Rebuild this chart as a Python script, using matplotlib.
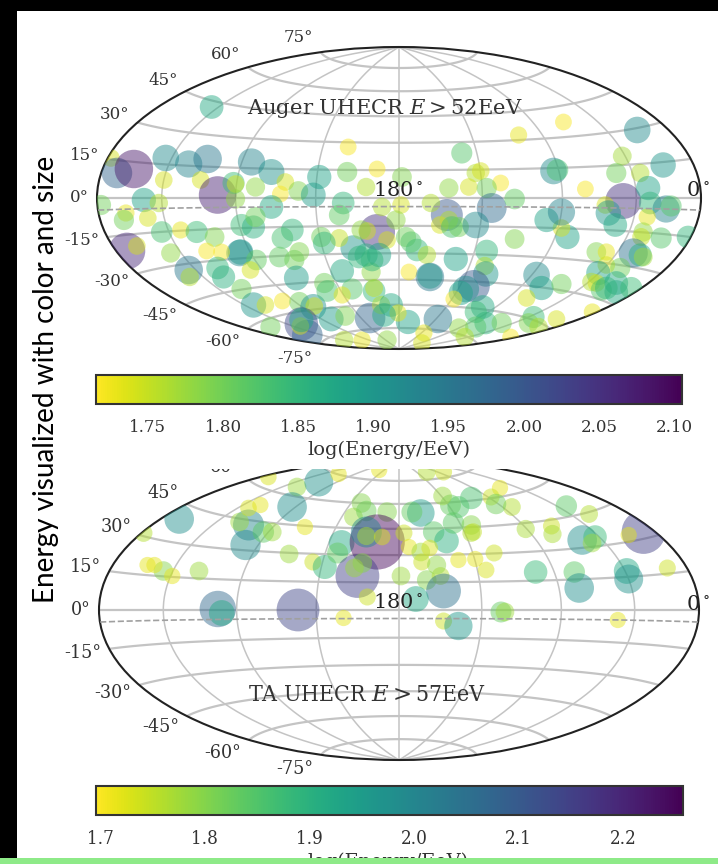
import numpy as np
import matplotlib
matplotlib.use('Agg')
import matplotlib.pyplot as plt
from matplotlib.cm import ScalarMappable
from matplotlib.colors import Normalize
from matplotlib.patches import Rectangle

# Arrival directions, in map units from the map centre
# (half width of the ellipse = 303 units), with log10(E/EeV) read from colour and size
auger_x = [-188, -289, -283, -266, -234, -211, -192, -236, -199, -182, -166, -164, -164, -148, -128, -114, -119,
           -144, -101, -80, -86, -51, -22, -52, -33, -56, -60, -299, -274, -276, -256, -241, -252, -238, -219, -203,
           -185, -128, -158, -146, -144, -160, -159, -193, -178, -229, -273, -263, -107, -117, -100, -120, -105,
           -103, -211, -210, -182, -176, -143, -149, -158, -146, -134, -117, -129, -100, -86, -85, -98, -92, -99,
           -98, -68, -75, -72, -57, -47, -57, -54, -55, -37, -29, -25, -25, -28, -18, -12, -22, -32, -12, -46, -33,
           -20, -40, -27, -60, -78, -75, -38, 7, 18, 12, 28, 10, 31, 31, 57, 88, 86, 87, 75, 67, 62, 55, 84, 77, 87,
           77, 103, 60, 66, 112, 39, 9, 25, 23, -8, -1, -15, 138, 143, 163, 128, 135, 130, 158, 140, 194, 116, 169,
           163, 148, 163, 165, 120, 239, 224, 265, 218, 242, 155, 159, 63, 77, 82, 50, 70, 102, 88, 93, 116, 187,
           225, 250, 252, 268, 273, 207, 210, 217, 249, 245, 243, 263, 290, 198, 208, 235, 242, 245, 48, 50, 41, 53,
           60, 32, 77, 3, -17, 2, -3, 208, 200, 193, 198, 203, 222, 218, 218, 233, 208]
auger_y = [91, 40, 25, 29, 40, 34, 39, 18, 18, 3, 15, 14, -1, 36, 26, 16, 4,
           11, 7, 21, 3, 51, 29, 26, 11, -5, -17, -7, -15, -22, -2, -5, -20, -34, -32, -34,
           -39, -9, -27, -29, -19, -55, -54, -53, -54, -55, -53, -48, -32, -40, -54, -59, -62,
           -80, -72, -79, -70, -79, -62, -72, -91, -107, -107, -103, -129, -104, -109, -108, -126, -137, -128,
           -122, -121, -85, -93, -73, -91, -97, -118, -142, -142, -120, -93, -90, -74, -107, -142, -34, -33, -42, -50, -57,
           -57, -59, -62, -40, -39, -45, -32, -39, -52, -44, -57, -74, -79, -78, -61, -53, -68, -76, -88, -91, -95, -101, -109, -114, -125,
           -129, -125, -130, -139, -139, -121, -124, -135, -145, -107, -115, -117, -77, -90, -86, -100, -119, -125, -121, -129, -114, -41, -39,
           -30, -22, -14, 76, 63, 68, 42, 33, 25, 25, 27, 28, 45, 25, 27, 10, 11, 15, 10, -10, -1, 9,
           -3, 10, -5, -11, -8, -7, -15, -27, -19, -34, -39, -40, -39, -54, -54, -55, -57, -59, -17, -22, -27, -29,
           -29, -5, -27, 21, -9, -7, -22, -67, -75, -84, -85, -92, -70, -85, -94, -90, -90]
auger_loge = [1.87, 1.74, 1.98, 2.08, 1.92, 1.93, 1.95, 1.74, 1.74, 2.07, 1.84, 1.74, 1.78, 1.93, 1.91, 1.74, 1.72,
              1.78, 1.79, 1.88, 1.89, 1.72, 1.72, 1.8, 1.76, 1.85, 1.81, 1.8, 1.73, 1.8, 1.88, 1.76, 1.74, 1.83, 1.73, 1.84,
              1.79, 1.87, 1.84, 1.86, 1.8, 1.92, 1.9, 1.72, 1.72, 1.78, 2.06, 1.74, 1.85, 1.83, 1.79, 1.81, 1.8,
              1.89, 1.95, 1.76, 1.85, 1.86, 1.81, 1.74, 1.8, 1.9, 1.74, 1.72, 1.8, 1.8, 1.91, 1.74, 2.02, 1.98, 1.74,
              1.88, 1.89, 1.8, 1.83, 1.87, 1.82, 1.73, 1.79, 1.76, 1.73, 1.98, 1.85, 1.75, 1.78, 1.76, 1.78, 2.05, 1.74, 1.74, 1.9, 1.86,
              1.88, 1.85, 1.85, 1.75, 1.8, 1.85, 1.78, 1.8, 1.85, 1.82, 1.76, 1.72, 1.95, 1.9, 1.88, 1.85, 1.76, 1.9, 2.0, 1.92, 1.88, 1.72, 1.87, 1.84, 1.85,
              1.82, 1.8, 1.78, 1.76, 1.72, 1.95, 1.88, 1.73, 1.74, 1.87, 1.73, 1.87, 1.92, 1.88, 1.8, 1.74, 1.84, 1.79, 1.74, 1.76, 1.73, 1.79, 1.88,
              1.74, 1.88, 1.93, 1.72, 1.73, 1.92, 1.77, 1.9, 1.8, 1.76, 1.92, 1.83, 1.82, 1.76, 1.74, 1.78, 1.74, 1.72, 1.8, 1.97, 1.81, 1.72,
              2.05, 1.88, 1.85, 1.93, 1.82, 1.74, 1.9, 1.87, 1.73, 1.78, 1.75, 1.82, 1.85, 1.79, 1.73, 1.96, 1.86, 1.77, 2.0, 1.76, 1.74, 1.83,
              1.8, 1.76, 1.92, 1.79, 1.76, 1.74, 1.78, 1.74, 1.88, 1.76, 1.74, 1.82, 1.8, 1.87, 1.87, 1.84, 1.85]

ta_x = [-258, -222, -152, -155, -161, -137, -128, -152, -140, -132, -103, -108, -81, -61, -95, -111, -87, -75, -58, -62,
        -46, -38, -33, -12, -22, -33, -33, -17, -42, -37, -45, -32, -56, -102, -183, -179, -202, -238, -247, -254, -229,
        -20, 2, 28, 42, 45, 17, 45, 60, 103, 107, 138, 177, 182, 230, 232, 221, 271, 185, 198, 195, 247, 232, 169, 192,
        154, 155, 128, 114, 102, 93, 98, 73, 60, 52, 44, 22, 13, 5, 10, 35, 48, 55, 73, 75, 73, 96, 60, 77, 88, 22, 23,
        31, 38, 28, 45]
ta_y = [77, 91, 85, 65, 88, 78, 78, 102, 105, 133, 123, 103, 128, 136, 83, 56, 48, 43, 67, 57,
        93, 107, 99, 98, 68, 78, 74, 73, 34, 47, 42, 13, -8, 0, 1, -3, 39, 39, 45, 45, 34,
        140, 34, 30, 34, 19, 11, -11, -16, -2, -2, 38, 38, 22, 39, 31, -10, 42, 70, 73, 67, 78, 75, 104, 96,
        84, 76, 81, 103, 122, 113, 106, 112, 103, 105, 114, 97, 98, 77, 63, 78, 69, 87, 85, 78, 77, 57, 50, 51, 40, 58, 48,
        62, 45, 138, 138]
ta_loge = [1.76, 1.98, 2.0, 1.99, 1.78, 1.84, 1.78, 1.73, 1.72, 1.73, 1.78, 1.98, 1.97, 1.72, 1.72, 1.78, 1.74, 1.89, 1.92, 1.83,
           1.78, 1.8, 1.82, 1.8, 2.25, 2.0, 1.77, 1.73, 2.15, 1.8, 1.78, 1.74, 1.72, 2.14, 2.07, 1.92, 1.78, 1.8, 1.72, 1.72, 1.72,
           1.72, 1.78, 1.8, 1.76, 2.05, 1.92, 1.74, 1.96, 1.83, 1.78, 1.88, 1.84, 1.98, 1.92, 1.97, 1.72, 1.74, 1.98, 1.88, 1.78, 2.15, 1.72, 1.84, 1.76,
           1.74, 1.77, 1.77, 1.76, 1.72, 1.74, 1.82, 1.86, 1.85, 1.83, 1.78, 1.95, 1.83, 1.74, 1.72, 1.84, 1.9, 1.84, 1.8, 1.75, 1.76, 1.74, 1.72, 1.72, 1.73, 1.78, 1.74,
           1.73, 1.79, 1.76, 1.74]

auger_ticks = [1.75, 1.80, 1.85, 1.90, 1.95, 2.00, 2.05, 2.10]
ta_ticks = [1.7, 1.8, 1.9, 2.0, 2.1, 2.2]
auger_range = (1.7155, 2.105)
ta_range = (1.696, 2.257)

W, H = 718, 864
plt.rcParams['font.family'] = 'DejaVu Serif'
plt.rcParams['mathtext.fontset'] = 'dejavuserif'
text_color = '#333333'
grid_color = '#c4c4c4'


def px_rect(left, top, right, bottom):
    return [left / W, 1 - bottom / H, (right - left) / W, (bottom - top) / H]


def px_text(x, y, s, **kw):
    kw.setdefault('ha', 'center')
    kw.setdefault('va', 'center')
    kw.setdefault('color', text_color)
    return fig.text(x / W, 1 - y / H, s, **kw)


def draw_sky(rect, x, y, loge, erange, half_height, zorder, stretch, labelsize, size_k):
    ax = fig.add_axes(px_rect(*rect), projection='hammer', zorder=zorder)
    ax.patch.set_alpha(0)
    ax.set_longitude_grid(45)
    ax.set_latitude_grid(15)
    ax.set_longitude_grid_ends(90)
    ax.xaxis.set_ticklabels([])
    ax.xaxis.grid(True, color=grid_color, lw=1.1)
    ax.yaxis.grid(True, color=grid_color, lw=1.6)
    ax.tick_params(axis='y', labelsize=labelsize, labelcolor=text_color)
    for lab in ax.get_yticklabels():
        lab.set_fontstretch(stretch)
    ax.spines['geo'].set_linewidth(1.5)
    ax.spines['geo'].set_edgecolor('#222222')

    # map units -> lon/lat through the projection itself
    plane = np.column_stack([np.array(x) / 303 * 2 * np.sqrt(2), np.array(y) / half_height * np.sqrt(2)])
    lonlat = ax.transProjection.inverted().transform(plane)
    loge = np.array(loge)
    diam_pt = size_k * 10 ** loge * 72 / 100
    ax.scatter(lonlat[:, 0], lonlat[:, 1], c=loge, s=diam_pt ** 2, cmap='viridis_r',
               vmin=erange[0], vmax=erange[1], alpha=0.47, linewidths=0, zorder=3)

    # dashed line just below the equator
    lon = np.radians(np.linspace(-179.9, 179.9, 200))
    ax.plot(lon, np.full_like(lon, np.radians(-4.6)), color='#a0a0a0', lw=1.2, ls='--', zorder=4)
    return ax


def draw_bar(rect, erange, ticks, fmt, stretch, labelsize):
    cax = fig.add_axes(px_rect(*rect), zorder=2)
    sm = ScalarMappable(norm=Normalize(*erange), cmap='viridis_r')
    cb = fig.colorbar(sm, cax=cax, orientation='horizontal')
    cb.set_ticks(ticks)
    cb.set_ticklabels([fmt % t for t in ticks])
    cb.outline.set_linewidth(1.5)
    cb.outline.set_edgecolor('#333333')
    cax.tick_params(length=0, pad=11, labelsize=labelsize, labelcolor=text_color)
    for lab in cax.get_xticklabels():
        lab.set_fontstretch(stretch)
    return cb


fig = plt.figure(figsize=(W / 100, H / 100), dpi=100, facecolor='black')

# white slide area, green strip under it
fig.add_artist(Rectangle((17 / W, 0), 1 - 17 / W, 1 - 11 / H, transform=fig.transFigure,
                         facecolor='white', edgecolor='none', zorder=-5))

draw_sky((96, 460, 702, 760), ta_x, ta_y, ta_loge, ta_range, 150, 0, 'condensed', 14, 0.31)

# the lower map is cropped at the top by the panel above it
fig.add_artist(Rectangle((17 / W, 1 - 469 / H), 1 - 17 / W, (469 - 11) / H, transform=fig.transFigure,
                         facecolor='white', edgecolor='none', zorder=1))

draw_sky((96, 47, 702, 349), auger_x, auger_y, auger_loge, auger_range, 151, 2, 'normal', 12, 0.32)

draw_bar((96, 375, 682, 404), auger_range, auger_ticks, '%.2f', 'normal', 12)
draw_bar((96, 786, 683, 815), ta_range, ta_ticks, '%.1f', 'condensed', 13.5)

px_text(385, 108, r'Auger UHECR $E>$52EeV', fontsize=15.2, zorder=6)
px_text(367, 695, r'TA UHECR $E>$57EeV', fontsize=16.5, fontstretch='condensed', zorder=6)
px_text(398, 191, r'$180^\circ$', fontsize=15, color='#222222', zorder=6)
px_text(698, 191, r'$0^\circ$', fontsize=15, color='#222222', zorder=6)
px_text(398, 603, r'$180^\circ$', fontsize=15, color='#222222', zorder=6)
px_text(698, 604, r'$0^\circ$', fontsize=15, color='#222222', zorder=6)
px_text(389, 450, 'log(Energy/EeV)', fontsize=14, zorder=6)
px_text(388, 852, 'log(Energy/EeV)', fontsize=15.4, fontstretch='condensed', va='top', zorder=6)

fig.add_artist(Rectangle((0, 0), 1, 6 / H, transform=fig.transFigure,
                         facecolor='#8eea88', edgecolor='none', zorder=7))

px_text(46, 379, 'Energy visualized with color and size', rotation=90, fontsize=20.1,
        family='Lato', color='black', zorder=8)

fig.savefig('out.png', dpi=100, facecolor=fig.get_facecolor())
